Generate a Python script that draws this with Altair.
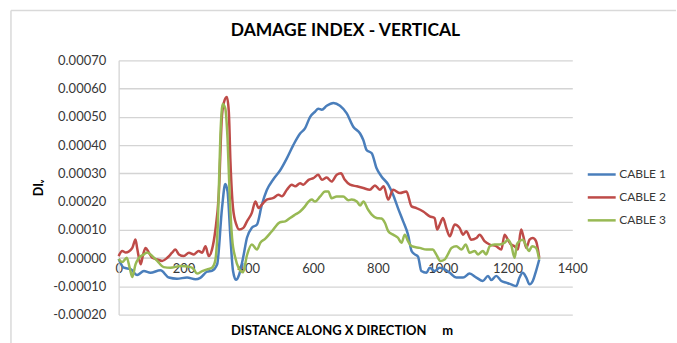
import altair as alt
import pandas as pd

# Damage index values are listed in units of 1e-4
SCALE = 1e-4

CABLE_NAMES = ["CABLE 1", "CABLE 2", "CABLE 3"]
CABLE_COLORS = ["#4A7EBB", "#BE4B48", "#98B954"]

CHART_TITLE = "DAMAGE INDEX - VERTICAL"
X_TITLE = "DISTANCE ALONG X DIRECTION\u00a0\u00a0\u00a0\u00a0\u00a0m"
Y_TITLE = "DI\u1d65"

X_TICKS = [0, 200, 400, 600, 800, 1000, 1200, 1400]
Y_TICKS = [-0.0002, -0.0001, 0.0, 0.0001, 0.0002, 0.0003, 0.0004, 0.0005, 0.0006, 0.0007]

cable1_x = [0, 16, 37, 57, 78, 98, 129, 155, 180, 211, 237, 252, 273, 288, 304, 319, 329,
            336, 345, 353, 362, 372, 384, 396, 411, 427, 442, 457, 478, 498, 519, 539, 560,
            575, 591, 606, 616, 627, 642, 663, 683, 704, 724, 745, 755, 765, 781, 796, 811,
            832, 847, 862, 878, 893, 904, 914, 924, 934, 950, 960, 975, 991, 1006, 1022,
            1042, 1063, 1083, 1104, 1124, 1140, 1150, 1165, 1181, 1196, 1211, 1227, 1237,
            1247, 1258, 1268, 1278, 1288, 1298]
cable1_v = [-0.03, -0.34, -0.39, -0.60, -0.46, -0.52, -0.43, -0.69, -0.73, -0.69, -0.75,
            -0.70, -0.48, -0.45, -0.22, 1.77, 2.62, 2.36, 0.72, -0.46, -0.77, -0.58, 0.01,
            0.72, 1.07, 1.19, 1.89, 2.40, 2.80, 3.10, 3.53, 4.00, 4.41, 4.59, 5.00, 5.18,
            5.29, 5.25, 5.39, 5.49, 5.39, 5.12, 4.65, 4.41, 4.18, 3.83, 3.71, 3.18, 2.89,
            2.60, 2.24, 1.77, 1.30, 0.83, 0.25, 0.13, 0.05, -0.46, -0.52, -0.34, -0.46,
            -0.34, -0.40, -0.52, -0.69, -0.69, -0.55, -0.69, -0.81, -0.63, -0.78, -0.63,
            -0.81, -0.87, -0.93, -0.99, -0.69, -0.52, -0.69, -0.93, -0.81, -0.46, -0.05]

cable2_x = [0, 11, 22, 42, 52, 57, 68, 75, 83, 93, 104, 119, 134, 150, 165, 175, 186, 201,
            217, 232, 247, 258, 268, 278, 288, 298, 309, 319, 327, 334, 340, 345, 353, 363,
            372, 385, 396, 411, 422, 432, 442, 457, 478, 493, 504, 519, 534, 545, 560, 570,
            586, 601, 616, 627, 642, 657, 673, 686, 698, 714, 735, 755, 775, 791, 806, 818,
            832, 847, 868, 888, 904, 919, 940, 960, 975, 983, 991, 1001, 1011, 1022, 1037,
            1052, 1063, 1073, 1088, 1104, 1114, 1129, 1145, 1165, 1181, 1191, 1201, 1211,
            1222, 1232, 1242, 1249, 1258, 1268, 1278, 1288, 1298]
cable2_v = [0.07, 0.25, 0.20, 0.36, 0.66, 0.36, -0.22, 0.10, 0.36, 0.20, 0.01, -0.05,
            -0.10, 0.01, 0.19, 0.30, 0.13, 0.07, 0.19, 0.13, 0.25, 0.19, 0.42, 0.07, 0.30,
            0.95, 2.24, 5.06, 5.59, 5.70, 5.18, 3.42, 1.77, 1.19, 1.01, 1.07, 1.30, 1.60,
            2.00, 1.77, 1.89, 2.07, 2.13, 2.24, 2.19, 2.42, 2.60, 2.54, 2.65, 2.60, 2.77,
            2.83, 2.95, 2.77, 2.85, 2.71, 2.95, 3.00, 2.77, 2.60, 2.54, 2.48, 2.42, 2.57,
            2.42, 2.54, 2.07, 2.42, 2.30, 2.36, 1.83, 1.77, 1.65, 1.48, 1.42, 1.01, 1.19,
            1.42, 1.07, 0.77, 1.19, 1.07, 0.83, 0.95, 0.65, 0.71, 0.83, 0.60, 0.48, 0.42,
            0.30, 0.83, 0.65, 0.48, 0.42, 0.30, 1.01, 0.77, 0.36, 0.65, 0.71, 0.60, 0.01]

cable3_x = [0, 11, 25, 34, 42, 52, 63, 78, 88, 104, 119, 139, 160, 191, 222, 232, 242, 258,
            273, 288, 298, 306, 314, 321, 329, 336, 343, 350, 360, 370, 384, 396, 411, 427,
            437, 452, 473, 498, 514, 529, 545, 560, 575, 586, 596, 606, 622, 637, 647, 657,
            673, 693, 709, 719, 735, 745, 755, 770, 781, 796, 811, 822, 832, 847, 862, 873,
            883, 893, 904, 929, 950, 970, 980, 993, 1006, 1016, 1027, 1042, 1058, 1071,
            1083, 1099, 1109, 1124, 1134, 1145, 1160, 1176, 1191, 1201, 1211, 1222, 1229,
            1237, 1247, 1258, 1266, 1276, 1288, 1298]
cable3_v = [-0.03, -0.14, 0.01, -0.34, -0.67, -0.22, 0.01, 0.13, 0.20, 0.07, -0.10, -0.32,
            -0.34, -0.28, -0.32, -0.40, -0.55, -0.46, -0.40, -0.34, -0.10, 1.19, 4.35, 5.45,
            5.30, 4.24, 2.12, 0.72, 0.01, -0.34, -0.50, 0.10, 0.48, 0.30, 0.54, 0.68, 0.95,
            1.27, 1.30, 1.42, 1.54, 1.65, 1.83, 2.00, 2.07, 2.00, 2.18, 2.36, 2.36, 2.12,
            2.18, 2.18, 2.05, 2.07, 2.00, 1.86, 2.00, 1.71, 1.54, 1.42, 1.40, 1.24, 0.95,
            0.83, 0.72, 0.54, 0.83, 0.60, 0.42, 0.36, 0.30, 0.30, 0.13, -0.10, -0.05, 0.13,
            0.36, 0.42, 0.30, 0.48, 0.19, 0.25, 0.13, 0.25, 0.13, 0.42, 0.48, 0.48, 0.54,
            0.65, 0.48, 0.01, 0.48, 0.60, 0.65, 0.42, 0.25, 0.42, 0.36, -0.05]

series = [(CABLE_NAMES[0], cable1_x, cable1_v),
          (CABLE_NAMES[1], cable2_x, cable2_v),
          (CABLE_NAMES[2], cable3_x, cable3_v)]
df = pd.concat(
    [pd.DataFrame({"distance": xs, "di": [v * SCALE for v in vs], "cable": name})
     for name, xs, vs in series],
    ignore_index=True,
)

FONT = "Lato"
GRID = "#d4d4d4"
TEXT = "#383838"
PLOT_W = 455
PLOT_H = 255

lines = alt.Chart(df).mark_line(strokeWidth=2.5, interpolate="monotone").encode(
    x=alt.X(
        "distance:Q",
        scale=alt.Scale(domain=[0, 1400], nice=False),
        axis=alt.Axis(
            values=X_TICKS,
            format="d",
            title=X_TITLE,
            offset=-57,
            grid=False,
            ticks=False,
            labelPadding=5,
            labelFlush=False,
            domainColor=GRID,
            domainWidth=1.3,
            labelFont=FONT,
            labelFontSize=13,
            labelColor=TEXT,
            titleFont=FONT,
            titleFontSize=13,
            titleFontWeight="bold",
            titleColor="#000000",
            titleY=73,
            titleX=PLOT_W / 2 - 4,
            titleBaseline="middle",
        ),
    ),
    y=alt.Y(
        "di:Q",
        scale=alt.Scale(domain=[-0.0002, 0.0007], nice=False),
        axis=alt.Axis(
            values=Y_TICKS,
            format=".5f",
            labelExpr="replace(format(datum.value, '.5f'), '\u2212', '-')",
            title=Y_TITLE,
            grid=True,
            gridColor=GRID,
            gridWidth=1.3,
            ticks=False,
            labelPadding=13,
            domainColor=GRID,
            domainWidth=1.3,
            labelFont=FONT,
            labelFontSize=13,
            labelColor=TEXT,
            titleFont=FONT,
            titleFontSize=12.5,
            titleFontWeight="bold",
            titleColor="#000000",
            titleAngle=270,
            titleX=-80,
            titleBaseline="middle",
        ),
    ),
    color=alt.Color(
        "cable:N",
        scale=alt.Scale(domain=CABLE_NAMES, range=CABLE_COLORS),
        legend=alt.Legend(
            title=None,
            orient="none",
            legendX=469,
            legendY=99,
            padding=0,
            symbolType="stroke",
            symbolSize=784,
            symbolStrokeWidth=2.5,
            rowPadding=1,
            labelOffset=2,
            labelFont=FONT,
            labelFontSize=12,
            labelColor=TEXT,
        ),
    ),
)

# light frame around the whole chart area (left and top edges)
frame = pd.DataFrame({"k": [0]})
frame_left = alt.Chart(frame).mark_rule(color="#d9d9d9", strokeWidth=1.5).encode(
    x=alt.value(-108), y=alt.value(-50), y2=alt.value(284)
)
frame_top = alt.Chart(frame).mark_rule(color="#d9d9d9", strokeWidth=1.5).encode(
    x=alt.value(-108), x2=alt.value(559), y=alt.value(-50)
)

# chart heading, centred over the plot area
heading = alt.Chart(frame).mark_text(
    font=FONT, fontSize=17.5, fontWeight="bold", color="#000000",
    align="center", baseline="middle",
).encode(
    x=alt.value(PLOT_W / 2), y=alt.value(-29), text=alt.value(CHART_TITLE)
)

chart = alt.layer(frame_left, frame_top, heading, lines).properties(
    width=PLOT_W,
    height=PLOT_H,
    padding={"left": 10, "top": 9, "right": 0, "bottom": 0},
).configure_view(strokeWidth=0)

chart.save("out.html", embed_options={"renderer": "svg", "actions": False})
